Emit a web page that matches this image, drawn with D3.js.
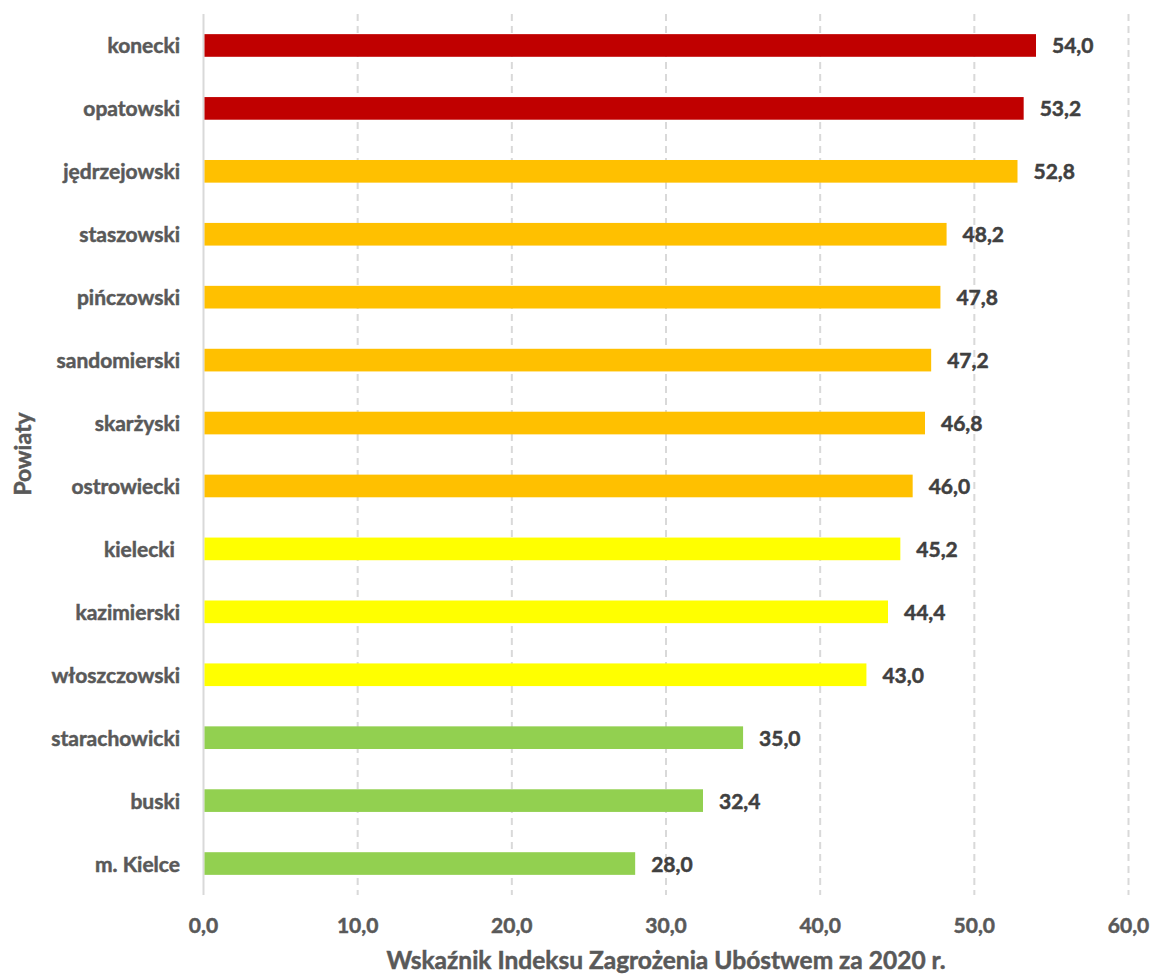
<!DOCTYPE html>
<html>
<head>
<meta charset="utf-8">
<script src="https://cdn.jsdelivr.net/npm/d3@7"></script>
<style>
  html, body { margin: 0; padding: 0; background: #fff; }
  svg { display: block; font-family: Lato, 'Open Sans', sans-serif; font-weight: bold; }
  svg text { stroke-width: 0.5px; }
</style>
</head>
<body>
<svg id="chart" width="1153" height="975"></svg>
<script>
const powiaty = ['konecki', 'opatowski', 'jędrzejowski', 'staszowski', 'pińczowski',
  'sandomierski', 'skarżyski', 'ostrowiecki', 'kielecki ', 'kazimierski',
  'włoszczowski', 'starachowicki', 'buski', 'm. Kielce'];
const wskaznik = [54.0, 53.2, 52.8, 48.2, 47.8, 47.2, 46.8, 46.0, 45.2, 44.4, 43.0, 35.0, 32.4, 28.0];
// klasa zagrożenia dla każdego powiatu
const klasa = ['wysoka', 'wysoka', 'podwyższona', 'podwyższona', 'podwyższona', 'podwyższona',
  'podwyższona', 'podwyższona', 'umiarkowana', 'umiarkowana', 'umiarkowana', 'niska', 'niska', 'niska'];
const xTicks = [0, 10, 20, 30, 40, 50, 60];

const data = powiaty.map((p, i) => ({ name: p, value: wskaznik[i], klasa: klasa[i] }));

const svg = d3.select('#chart');
const fmt = v => d3.format('.1f')(v).replace('.', ',');

const x = d3.scaleLinear().domain([0, 60]).range([203.5, 1128.5]);
const y = d3.scaleBand().domain(powiaty).range([14, 895]).paddingInner(0.64).paddingOuter(0.32);
const color = d3.scaleOrdinal()
  .domain(['wysoka', 'podwyższona', 'umiarkowana', 'niska'])
  .range(['#C00000', '#FFC000', '#FFFF00', '#92D050']);

// gridlines
svg.append('g')
  .selectAll('line')
  .data(xTicks.slice(1))
  .enter()
  .append('line')
  .attr('x1', d => x(d))
  .attr('x2', d => x(d))
  .attr('y1', 14)
  .attr('y2', 895)
  .attr('stroke', '#d9d9d9')
  .attr('stroke-width', 2)
  .attr('stroke-dasharray', '7,5');

// axis line at 0
svg.append('line')
  .attr('x1', x(0)).attr('x2', x(0))
  .attr('y1', 14).attr('y2', 895)
  .attr('stroke', '#d9d9d9')
  .attr('stroke-width', 2);

// bars
svg.append('g')
  .selectAll('rect')
  .data(data)
  .enter()
  .append('rect')
  .attr('x', x(0) + 1)
  .attr('y', d => y(d.name))
  .attr('width', d => x(d.value) - x(0) - 1)
  .attr('height', y.bandwidth())
  .attr('fill', d => color(d.klasa));

// value labels
svg.append('g')
  .selectAll('text')
  .data(data)
  .enter()
  .append('text')
  .attr('x', d => x(d.value) + 16)
  .attr('y', d => y(d.name) + y.bandwidth() / 2 + 8)
  .attr('fill', '#404040')
  .attr('stroke', '#404040')
  .style('font-size', '21px')
  .text(d => fmt(d.value));

// category labels
svg.append('g')
  .selectAll('text')
  .data(data)
  .enter()
  .append('text')
  .attr('x', 180)
  .attr('y', d => y(d.name) + y.bandwidth() / 2 + 8)
  .attr('text-anchor', 'end')
  .attr('fill', '#595959')
  .attr('stroke', '#595959')
  .style('font-size', '21px')
  .style('white-space', 'pre')
  .text(d => d.name);

// x tick labels
svg.append('g')
  .selectAll('text')
  .data(xTicks)
  .enter()
  .append('text')
  .attr('x', d => x(d))
  .attr('y', 933)
  .attr('text-anchor', 'middle')
  .attr('fill', '#595959')
  .attr('stroke', '#595959')
  .style('font-size', '21px')
  .text(d => fmt(d));

// axis titles
svg.append('text')
  .attr('x', 666)
  .attr('y', 969)
  .attr('text-anchor', 'middle')
  .attr('fill', '#595959')
  .attr('stroke', '#595959')
  .style('font-size', '24.5px')
  .text('Wskaźnik Indeksu Zagrożenia Ubóstwem za 2020 r.');

svg.append('text')
  .attr('transform', 'translate(31,454) rotate(-90)')
  .attr('text-anchor', 'middle')
  .attr('fill', '#595959')
  .attr('stroke', '#595959')
  .style('font-size', '23px')
  .text('Powiaty');
</script>
</body>
</html>
